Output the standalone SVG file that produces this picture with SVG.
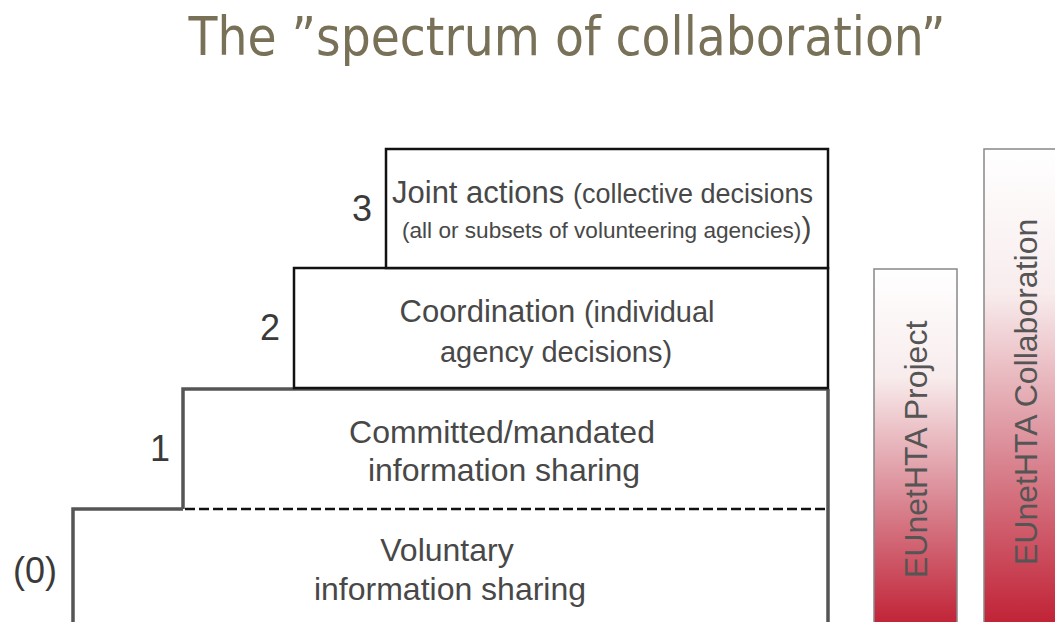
<svg xmlns="http://www.w3.org/2000/svg" width="1055" height="622" viewBox="0 0 1055 622">
<defs>
<linearGradient id="redfade" x1="0" y1="0" x2="0" y2="1">
<stop offset="0" stop-color="#ffffff"/>
<stop offset="0.3" stop-color="#f8eced"/>
<stop offset="0.65" stop-color="#d98591"/>
<stop offset="1" stop-color="#c01f33"/>
</linearGradient>
<style>
.t{font-family:"Liberation Sans",Arial,sans-serif;fill:#484848;text-anchor:middle}
.n{font-family:"Liberation Sans",Arial,sans-serif;fill:#3a3a3a;font-size:36px;text-anchor:middle}
.blk{fill:#fff;stroke:#111;stroke-width:2.5}
.gry{fill:none;stroke:#555;stroke-width:3.5}
.bar{fill:url(#redfade);stroke:#888;stroke-width:1.5}
.bt{font-family:"Liberation Sans",Arial,sans-serif;fill:#555;font-size:32px}
</style>
</defs>
<rect width="1055" height="622" fill="#fff"/>
<text x="567" y="55" font-family="DejaVu Sans Condensed,DejaVu Sans,sans-serif" font-size="53" fill="#787158" text-anchor="middle" textLength="757" lengthAdjust="spacingAndGlyphs">The ”spectrum of collaboration”</text>

<g id="level0">
<path class="gry" d="M73 622 V509 H183"/>
<text class="n" x="35" y="583">(0)</text>
<text class="t" font-size="32" x="447" y="561">Voluntary</text>
<text class="t" font-size="32" x="450" y="600">information sharing</text>
</g>
<g id="level1">
<path class="gry" d="M183 509 V389 H828 M828 389 V622"/>
<line x1="185" y1="509" x2="828" y2="509" stroke="#111" stroke-width="2.5" stroke-dasharray="10 4"/>
<text class="n" x="160" y="461">1</text>
<text class="t" font-size="32" x="502" y="443">Committed/mandated</text>
<text class="t" font-size="32" x="504" y="481">information sharing</text>
</g>
<g id="level2">
<rect class="blk" x="294" y="268" width="534" height="120"/>
<text class="n" x="270" y="340">2</text>
<text class="t" x="557" y="322"><tspan font-size="31">Coordination </tspan><tspan font-size="29">(individual</tspan></text>
<text class="t" font-size="29" x="556" y="362">agency decisions)</text>
</g>
<g id="level3">
<rect class="blk" x="386" y="149" width="442" height="119"/>
<text class="n" x="362" y="221">3</text>
<text x="392" y="203" font-family="Liberation Sans,Arial,sans-serif" fill="#484848"><tspan font-size="31">Joint actions </tspan><tspan font-size="27">(collective decisions</tspan></text>
<text x="402" y="238" font-family="Liberation Sans,Arial,sans-serif" fill="#484848"><tspan font-size="22.6">(all or subsets of volunteering agencies)</tspan><tspan font-size="30">)</tspan></text>
</g>
<g id="project">
<rect class="bar" x="874" y="269" width="83" height="360"/>
<text class="bt" transform="translate(927 578) rotate(-90)">EUnetHTA Project</text>
</g>
<g id="collaboration">
<rect class="bar" x="984" y="149" width="80" height="480"/>
<text class="bt" transform="translate(1037 565) rotate(-90)">EUnetHTA Collaboration</text>
</g>
<g id="connectors"></g>
</svg>
